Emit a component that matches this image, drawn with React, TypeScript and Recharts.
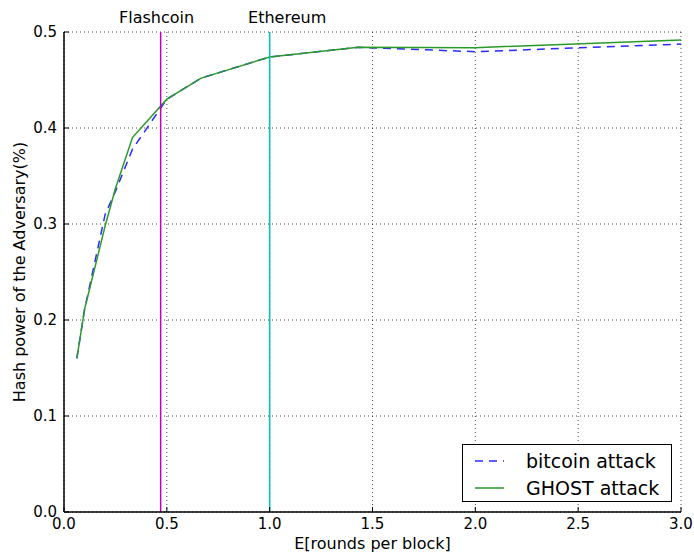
import React from 'react';
import {
  LineChart,
  Line,
  XAxis,
  YAxis,
  CartesianGrid,
  ReferenceLine,
  ReferenceDot,
  Legend,
} from 'recharts';

// Expected rounds per block (x) and the adversary's required hash power (y)
const roundsPerBlock = [0.0625, 0.1, 0.2, 0.25, 0.333, 0.5, 0.667, 1.0, 1.43, 2.0, 3.0];
const bitcoinAttack = [0.16, 0.211, 0.31, 0.334, 0.378, 0.43, 0.452, 0.474, 0.484, 0.4795, 0.4875];
const ghostAttack = [0.16, 0.211, 0.298, 0.337, 0.39, 0.43, 0.452, 0.474, 0.484, 0.4837, 0.4917];

const xTicks = [0, 0.5, 1.0, 1.5, 2.0, 2.5, 3.0];
const yTicks = [0, 0.1, 0.2, 0.3, 0.4, 0.5];

// Reference systems: block-rate position and where the name is written
const systemNames = ['Flashcoin', 'Ethereum'];
const systemRounds = [0.47, 1.0];
const systemLabelAt = [0.45, 1.085];
const systemColors = ['#bf00bf', '#00bfbf'];

const seriesNames = ['bitcoin attack', 'GHOST attack'];
const seriesColors = ['#2b2bff', '#2a9a2a'];

const data = roundsPerBlock.map((x, i) => ({
  x,
  bitcoin: bitcoinAttack[i],
  ghost: ghostAttack[i],
}));

const FONT = 'DejaVu Sans';
const fmt = (v: number) => v.toFixed(1);

const LegendBox = () => (
  <div
    style={{
      position: 'relative',
      width: 210,
      height: 58,
      boxSizing: 'border-box',
      border: '1px solid #000',
      background: '#fff',
      fontFamily: FONT,
      fontSize: 19,
      color: '#000',
    }}
  >
    {seriesNames.map((name, i) => (
      <div
        key={name}
        style={{
          position: 'absolute',
          left: 0,
          top: i === 0 ? 4 : 31,
          height: 24,
          width: '100%',
        }}
      >
        <svg width={50} height={24} style={{ position: 'absolute', left: 0, top: 0 }}>
          <line
            x1={12}
            x2={41}
            y1={12}
            y2={12}
            stroke={seriesColors[i]}
            strokeWidth={1.5}
            strokeDasharray={i === 0 ? '8 6' : undefined}
          />
        </svg>
        <span style={{ position: 'absolute', left: 63, top: 0, lineHeight: '24px', whiteSpace: 'nowrap' }}>
          {name}
        </span>
      </div>
    ))}
  </div>
);

const YLabel = (props: any) => {
  const vb = props.viewBox || { x: 0, y: 32, width: 64, height: 480 };
  const cx = 25;
  const cy = vb.y + vb.height / 2;
  return (
    <text
      x={cx}
      y={cy}
      transform={`rotate(-90, ${cx}, ${cy})`}
      textAnchor="middle"
      fontSize={16}
      fill="#000"
      fontFamily={FONT}
    >
      Hash power of the Adversary(%)
    </text>
  );
};

export default function App() {
  return (
    <div style={{ position: 'absolute', left: 0, top: 0, fontFamily: FONT }}>
      <LineChart
        width={694}
        height={552}
        data={data}
        margin={{ top: 32, right: 13, left: 0, bottom: 0 }}
        style={{ fontFamily: FONT }}
      >
        <CartesianGrid
          xAxisId="b"
          yAxisId="l"
          stroke="#000"
          strokeWidth={0.7}
          strokeDasharray="1 3"
        />
        <XAxis
          xAxisId="b"
          dataKey="x"
          type="number"
          domain={[0, 3]}
          allowDataOverflow
          ticks={xTicks}
          tickFormatter={fmt}
          orientation="bottom"
          height={40}
          tickSize={-5}
          tickMargin={11}
          tick={{ fontSize: 15, fill: '#000' }}
          axisLine={{ stroke: '#000', strokeWidth: 1.5 }}
          tickLine={{ stroke: '#000' }}
          label={{ value: 'E[rounds per block]', position: 'insideBottom', offset: 3, fontSize: 16, fill: '#000' }}
        />
        <XAxis
          xAxisId="t"
          dataKey="x"
          type="number"
          domain={[0, 3]}
          allowDataOverflow
          ticks={xTicks}
          tickFormatter={() => ''}
          orientation="top"
          height={0}
          tickSize={-5}
          axisLine={{ stroke: '#000', strokeWidth: 1.5 }}
          tickLine={{ stroke: '#000' }}
        />
        <YAxis
          yAxisId="l"
          type="number"
          domain={[0, 0.5]}
          allowDataOverflow
          ticks={yTicks}
          tickFormatter={fmt}
          orientation="left"
          width={64}
          tickSize={-5}
          tickMargin={12}
          tick={{ fontSize: 15, fill: '#000' }}
          axisLine={{ stroke: '#000', strokeWidth: 1.5 }}
          tickLine={{ stroke: '#000' }}
          label={<YLabel />}
        />
        <YAxis
          yAxisId="r"
          type="number"
          domain={[0, 0.5]}
          allowDataOverflow
          ticks={yTicks}
          tickFormatter={() => ''}
          orientation="right"
          width={0}
          tickSize={-5}
          axisLine={{ stroke: '#000', strokeWidth: 1.5 }}
          tickLine={{ stroke: '#000' }}
        />
        <Line
          xAxisId="b"
          yAxisId="l"
          dataKey="bitcoin"
          name={seriesNames[0]}
          stroke={seriesColors[0]}
          strokeWidth={1.5}
          strokeDasharray="8 6"
          dot={false}
          activeDot={false}
          isAnimationActive={false}
        />
        <Line
          xAxisId="b"
          yAxisId="l"
          dataKey="ghost"
          name={seriesNames[1]}
          stroke={seriesColors[1]}
          strokeWidth={1.5}
          dot={false}
          activeDot={false}
          isAnimationActive={false}
        />
        {systemRounds.map((x, i) => (
          <ReferenceLine
            key={systemNames[i]}
            xAxisId="b"
            yAxisId="l"
            x={x}
            stroke={systemColors[i]}
            strokeWidth={1.5}
          />
        ))}
        {systemLabelAt.map((x, i) => (
          <ReferenceDot
            key={`lbl-${systemNames[i]}`}
            xAxisId="b"
            yAxisId="l"
            x={x}
            y={0.5}
            r={0}
            fill="none"
            stroke="none"
            ifOverflow="visible"
            label={{ value: systemNames[i], position: 'top', offset: 9, fontSize: 16, fill: '#000' }}
          />
        ))}
        <Legend
          layout="vertical"
          align="center"
          verticalAlign="middle"
          content={() => <LegendBox />}
          wrapperStyle={{ position: 'absolute', left: 462, top: 444, width: 210, height: 58 }}
        />
      </LineChart>
    </div>
  );
}
